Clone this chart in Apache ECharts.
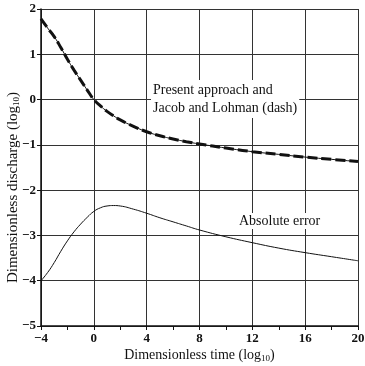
<!DOCTYPE html>
<html>
<head>
<meta charset="utf-8">
<script src="https://cdn.jsdelivr.net/npm/echarts@6/dist/echarts.min.js"></script>
<style>
  html, body { margin: 0; padding: 0; background: #fff; }
  #chart { width: 365px; height: 366px; }
</style>
</head>
<body>
<div id="chart"></div>
<script>
// dimensionless time (log10)
var timeValues = [-4, -3.5, -3, -2.5, -2, -1.5, -1, -0.5, 0, 0.5, 1, 1.5, 2, 3, 4, 5, 6, 7, 8, 10, 12, 14, 16, 18, 20];
// present approach, discharge (log10)
var presentQ = [1.78, 1.58, 1.39, 1.15, 0.89, 0.65, 0.43, 0.21, 0.0, -0.14, -0.26, -0.36, -0.45, -0.59, -0.71, -0.80, -0.87, -0.93, -0.98, -1.07, -1.15, -1.21, -1.27, -1.32, -1.37];
// Jacob and Lohman, discharge (log10) – overlaps present approach
var jacobQ = [1.78, 1.58, 1.39, 1.15, 0.89, 0.65, 0.43, 0.21, 0.0, -0.14, -0.26, -0.36, -0.45, -0.59, -0.71, -0.80, -0.87, -0.93, -0.98, -1.07, -1.15, -1.21, -1.27, -1.32, -1.37];
// absolute error (log10)
var absError = [-4.0, -3.82, -3.6, -3.35, -3.12, -2.92, -2.75, -2.6, -2.47, -2.39, -2.35, -2.34, -2.35, -2.42, -2.51, -2.61, -2.7, -2.79, -2.88, -3.03, -3.16, -3.28, -3.38, -3.47, -3.56];

var pairs = function (ys) {
    return timeValues.map(function (t, i) { return [t, ys[i]]; });
};
var minus = function (v) { return v < 0 ? '\u2212' + Math.abs(v) : String(v); };

var serif = 'Liberation Serif';
var makeRich = function (size) {
    return {
        a: { fontFamily: serif, fontSize: size, color: '#111' },
        s: { fontFamily: serif, fontSize: 9, color: '#111', verticalAlign: 'bottom', padding: [6, 0, 0, 0] }
    };
};

var myChart = echarts.init(document.getElementById('chart'));
myChart.setOption({
    animation: false,
    grid: { left: 41, right: 7, top: 9, bottom: 40, containLabel: false, outerBoundsMode: 'none' },
    xAxis: {
        type: 'value',
        min: -4, max: 20, interval: 4,
        name: '{a|Dimensionless time (log}{s|10}{a|)}',
        nameLocation: 'middle', nameGap: 22, nameMoveOverlap: false,
        nameTextStyle: { rich: makeRich(14) },
        axisLine: { onZero: false, lineStyle: { color: '#111', width: 1.5 } },
        axisTick: { show: true, length: 4, lineStyle: { color: '#111' } },
        minorTick: { show: true, splitNumber: 2, length: 4, lineStyle: { color: '#111' } },
        axisLabel: { formatter: minus, fontFamily: serif, fontWeight: 'bold', fontSize: 13, color: '#111', margin: 6 },
        splitLine: { show: true, lineStyle: { color: '#333', width: 1 } }
    },
    yAxis: {
        type: 'value',
        min: -5, max: 2, interval: 1,
        name: '{a|Dimensionless discharge (log}{s|10}{a|)}',
        nameLocation: 'middle', nameGap: 20, nameRotate: 90, nameMoveOverlap: false,
        nameTextStyle: { rich: makeRich(15), padding: [0, 40, 0, 0] },
        axisLine: { show: true, onZero: false, lineStyle: { color: '#111', width: 1.5 } },
        axisTick: { show: true, length: 4, lineStyle: { color: '#111' } },
        axisLabel: { formatter: minus, fontFamily: serif, fontWeight: 'bold', fontSize: 13, color: '#111', margin: 5 },
        splitLine: { show: true, lineStyle: { color: '#333', width: 1 } }
    },
    series: [
        {
            name: 'Present approach', type: 'line', smooth: true, showSymbol: false,
            data: pairs(presentQ),
            lineStyle: { color: '#111', width: 1 }
        },
        {
            name: 'Jacob and Lohman', type: 'line', smooth: true, showSymbol: false,
            data: pairs(jacobQ),
            lineStyle: { color: '#111', width: 3, type: [10, 4] }
        },
        {
            name: 'Absolute error', type: 'line', smooth: true, showSymbol: false,
            data: pairs(absError),
            lineStyle: { color: '#111', width: 1 }
        }
    ],
    graphic: [
        {
            type: 'text', left: 151, top: 80, z: 10,
            style: {
                text: 'Present approach and\nJacob and Lohman (dash)',
                font: '14px "Liberation Serif"', fill: '#111', lineHeight: 18,
                backgroundColor: '#fff', padding: [1, 2, 1, 2]
            }
        },
        {
            type: 'text', left: 237, top: 213, z: 10,
            style: {
                text: 'Absolute error',
                font: '14px "Liberation Serif"', fill: '#111',
                backgroundColor: '#fff', padding: [1, 2, 1, 2]
            }
        }
    ]
});
</script>
</body>
</html>
